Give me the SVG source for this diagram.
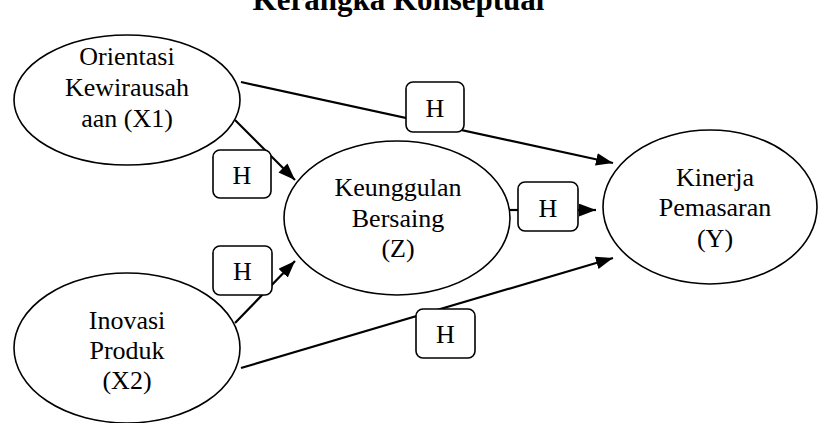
<svg xmlns="http://www.w3.org/2000/svg" width="819" height="423" viewBox="0 0 819 423">
<style>
text{font-family:"Liberation Serif","Times New Roman",serif;fill:#000}
.t{font-size:26px;text-anchor:middle}
.title{font-size:31px;font-weight:bold;text-anchor:middle}
.node{fill:#fff;stroke:#000;stroke-width:1.6}
.edge{fill:none;stroke:#000;stroke-width:2.2}
.box{fill:#fff;stroke:#000;stroke-width:1.6}
</style>
<defs>
<marker id="ah" viewBox="0 0 10 10" refX="10" refY="5" markerWidth="8" markerHeight="7" markerUnits="userSpaceOnUse" orient="auto">
<path d="M0,0 L10,5 L0,10 z" fill="#000"/>
</marker>
<marker id="arr" viewBox="0 0 16 12" refX="16" refY="6" markerWidth="17" markerHeight="13" markerUnits="userSpaceOnUse" orient="auto">
<path d="M0,0 L16,6 L0,12 z" fill="#000"/>
</marker>
</defs>
<rect width="819" height="423" fill="#fff"/>
<text class="title" x="398.5" y="10">Kerangka Konseptual</text>

<g id="connectors">
<line class="edge" x1="241" y1="82" x2="613" y2="163" marker-end="url(#arr)"/>
<line class="edge" x1="235" y1="120" x2="295" y2="180" marker-end="url(#arr)"/>
<line class="edge" x1="235" y1="323" x2="295" y2="261" marker-end="url(#arr)"/>
<line class="edge" x1="241" y1="368" x2="613" y2="258" marker-end="url(#arr)"/>
<line class="edge" x1="510" y1="210" x2="520" y2="210"/>
<line class="edge" x1="578" y1="210" x2="596" y2="210" marker-end="url(#arr)"/>
</g>

<g id="X1">
<ellipse class="node" cx="127" cy="100" rx="113" ry="65"/>
<text class="t" x="127" y="65">Orientasi</text>
<text class="t" x="127" y="96">Kewirausah</text>
<text class="t" x="127" y="127">aan (X1)</text>
</g>

<g id="X2">
<ellipse class="node" cx="127" cy="348" rx="113" ry="75"/>
<text class="t" x="127" y="329">Inovasi</text>
<text class="t" x="127" y="359">Produk</text>
<text class="t" x="127" y="389">(X2)</text>
</g>

<g id="Z">
<ellipse class="node" cx="397" cy="218" rx="113" ry="77"/>
<text class="t" x="398" y="196">Keunggulan</text>
<text class="t" x="398" y="227">Bersaing</text>
<text class="t" x="398" y="257">(Z)</text>
</g>

<g id="Y">
<ellipse class="node" cx="710" cy="207" rx="107" ry="77"/>
<text class="t" x="715" y="186">Kinerja</text>
<text class="t" x="715" y="216">Pemasaran</text>
<text class="t" x="715" y="247">(Y)</text>
</g>

<g id="H1">
<rect class="box" x="406" y="82" width="58" height="50" rx="7"/>
<text class="t" x="435" y="117">H</text>
</g>
<g id="H2">
<rect class="box" x="213" y="150" width="58" height="48" rx="7"/>
<text class="t" x="242" y="184">H</text>
</g>
<g id="H3">
<rect class="box" x="213" y="246" width="59" height="49" rx="7"/>
<text class="t" x="242.5" y="280">H</text>
</g>
<g id="H4">
<rect class="box" x="416" y="309" width="59" height="49" rx="7"/>
<text class="t" x="445.5" y="343">H</text>
</g>
<g id="H5">
<rect class="box" x="518" y="182" width="60" height="49" rx="7"/>
<text class="t" x="548" y="217">H</text>
</g>
</svg>
